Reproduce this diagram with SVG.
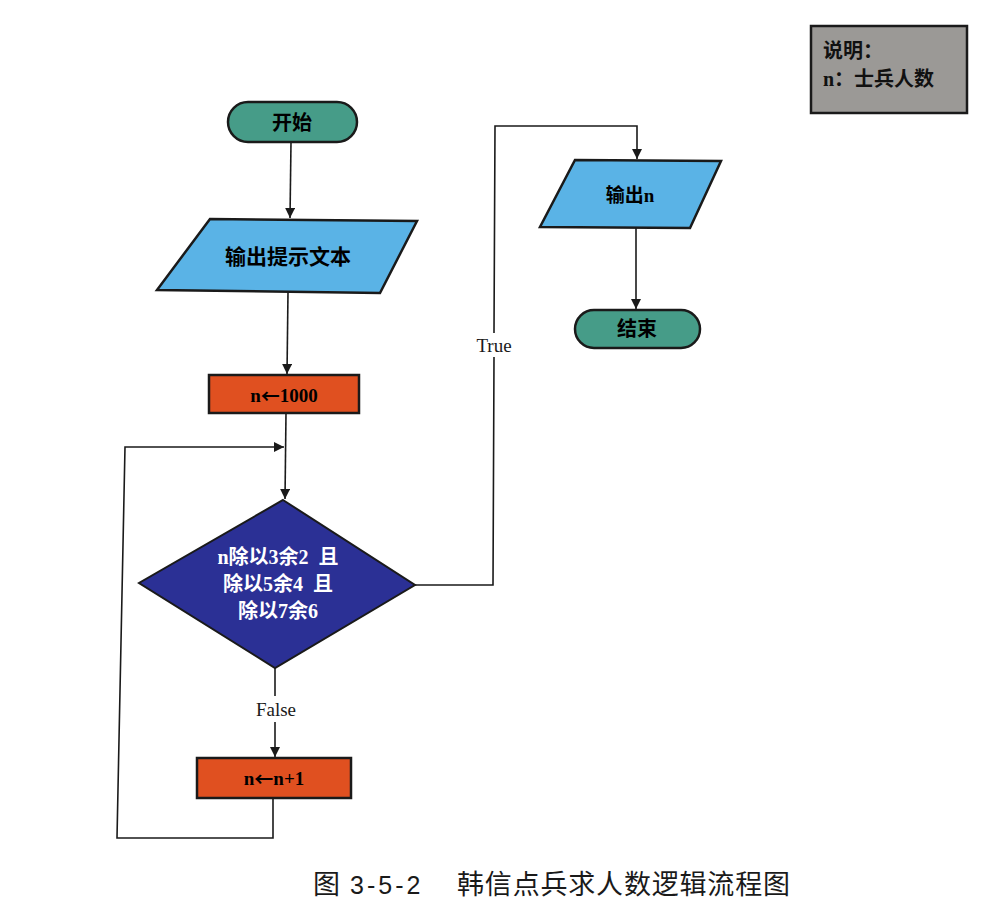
<svg xmlns="http://www.w3.org/2000/svg" width="1001" height="921" viewBox="0 0 1001 921">
<style>
.t{font-family:"Liberation Serif","Noto Sans CJK SC",serif;font-weight:bold;text-anchor:middle;dominant-baseline:central}
.ar{font-family:"Noto Sans CJK SC",sans-serif;font-weight:bold}
.term{fill:#469c88;stroke:#1a1a1a;stroke-width:2.5}
.io{fill:#5ab3e6;stroke:#1a1a1a;stroke-width:2.5}
.proc{fill:#e05020;stroke:#1a1a1a;stroke-width:2.5}
.dec{fill:#2b3095;stroke:#1a1a1a;stroke-width:2}
.c{fill:none;stroke:#1a1a1a;stroke-width:1.6}
.lbl{font-family:"Liberation Serif",serif;font-size:19px;fill:#1a1a1a;text-anchor:middle;dominant-baseline:central}
</style>
<defs>
<marker id="ah" viewBox="0 0 10 10" refX="10" refY="5" markerWidth="10" markerHeight="10" markerUnits="userSpaceOnUse" orient="auto">
<path d="M0,0 L10,5 L0,10 Z" fill="#1a1a1a"/>
</marker>
</defs>
<rect width="1001" height="921" fill="#ffffff"/>
<g id="connectors">
<path class="c" d="M291,142 L290,218" marker-end="url(#ah)"/>
<path class="c" d="M288,292 L287,374" marker-end="url(#ah)"/>
<path class="c" d="M286,413 L285,499" marker-end="url(#ah)"/>
<path class="c" d="M273,798 L273,838 L117,838 L125,447 L284,447" marker-end="url(#ah)"/>
<path class="c" d="M275,668 L275,696"/>
<path class="c" d="M275,722 L275,757" marker-end="url(#ah)"/>
<path class="c" d="M415,585 L493,585 L494,357"/>
<path class="c" d="M494,333 L495,126 L637,126 L637,159" marker-end="url(#ah)"/>
<path class="c" d="M636,227 L636,309" marker-end="url(#ah)"/>
<text class="lbl" x="276" y="709">False</text>
<text class="lbl" x="494" y="345">True</text>
</g>
<g id="start">
<rect class="term" x="228" y="102" width="129" height="40" rx="20"/>
<text class="t" x="292" y="123" font-size="20">开始</text>
</g>
<g id="output-prompt">
<polygon class="io" points="210,219 417,221 380,293 157,290"/>
<text class="t" x="288" y="257" font-size="21">输出提示文本</text>
</g>
<g id="init">
<rect class="proc" x="209" y="375" width="150" height="38"/>
<text class="t" x="284" y="395" font-size="19">n<tspan class="ar">←</tspan>1000</text>
</g>
<g id="decision">
<polygon class="dec" points="283,500 415,585 275,668 139,583"/>
<text class="t" x="278" y="557" font-size="20" fill="#ffffff" xml:space="preserve">n除以3余2  且</text>
<text class="t" x="278" y="584" font-size="20" fill="#ffffff" xml:space="preserve">除以5余4  且</text>
<text class="t" x="278" y="611" font-size="20" fill="#ffffff">除以7余6</text>
</g>
<g id="increment">
<rect class="proc" x="197" y="758" width="154" height="40"/>
<text class="t" x="274" y="778" font-size="19">n<tspan class="ar">←</tspan>n+1</text>
</g>
<g id="output-n">
<polygon class="io" points="575,160 721,161 690,228 540,227"/>
<text class="t" x="630" y="195" font-size="19">输出n</text>
</g>
<g id="end">
<rect class="term" x="575" y="310" width="125" height="38" rx="19"/>
<text class="t" x="637" y="329" font-size="20">结束</text>
</g>
<g id="legend">
<rect x="811" y="26" width="156" height="87" fill="#9b9996" stroke="#1a1a1a" stroke-width="2.5"/>
<text x="823" y="58" font-family="Liberation Serif,Noto Sans CJK SC,serif" font-weight="bold" font-size="20" fill="#111">说明：</text>
<text x="823" y="86" font-family="Liberation Serif,Noto Sans CJK SC,serif" font-weight="bold" font-size="20" fill="#111">n：士兵人数</text>
</g>
<g font-family="Liberation Serif,Noto Sans CJK SC,serif" font-size="27" fill="#1a1a1a">
<text x="313" y="894">图</text>
<text x="350" y="894" font-family="Liberation Sans,sans-serif" font-size="25" letter-spacing="3">3-5-2</text>
<text x="457" y="894" textLength="333" lengthAdjust="spacing">韩信点兵求人数逻辑流程图</text>
</g>
</svg>
